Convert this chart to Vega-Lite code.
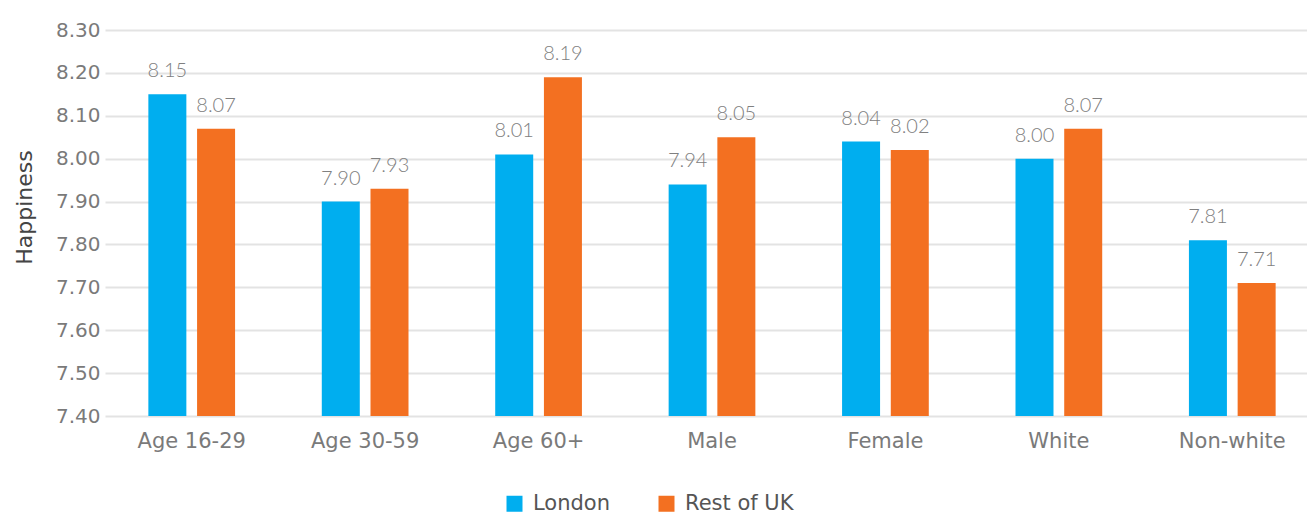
{
  "$schema": "https://vega.github.io/schema/vega-lite/v6.json",
  "width": 1196,
  "height": 386,
  "autosize": {"type": "none"},
  "padding": {"left": 111, "top": 30, "right": 0, "bottom": 101},
  "background": "white",
  "config": {
    "view": {"stroke": null},
    "font": "DejaVu Sans",
    "axis": {"labelFont": "DejaVu Sans", "titleFont": "DejaVu Sans"},
    "legend": {"labelFont": "DejaVu Sans"}
  },
  "data": {
    "values": [
      {"group": "Age 16-29", "region": "London", "value": 8.15},
      {"group": "Age 16-29", "region": "Rest of UK", "value": 8.07},
      {"group": "Age 30-59", "region": "London", "value": 7.90},
      {"group": "Age 30-59", "region": "Rest of UK", "value": 7.93},
      {"group": "Age 60+", "region": "London", "value": 8.01},
      {"group": "Age 60+", "region": "Rest of UK", "value": 8.19},
      {"group": "Male", "region": "London", "value": 7.94},
      {"group": "Male", "region": "Rest of UK", "value": 8.05},
      {"group": "Female", "region": "London", "value": 8.04},
      {"group": "Female", "region": "Rest of UK", "value": 8.02},
      {"group": "White", "region": "London", "value": 8.00},
      {"group": "White", "region": "Rest of UK", "value": 8.07},
      {"group": "Non-white", "region": "London", "value": 7.81},
      {"group": "Non-white", "region": "Rest of UK", "value": 7.71}
    ]
  },
  "encoding": {
    "x": {
      "field": "group",
      "type": "nominal",
      "sort": null,
      "scale": {"range": [-6, 1208], "paddingInner": 0.5, "paddingOuter": 0.25},
      "axis": {
        "title": null,
        "labelAngle": 0,
        "labelFontSize": 21,
        "labelColor": "#7a7a7a",
        "labelPadding": 14,
        "ticks": false,
        "domain": false,
        "grid": false
      }
    },
    "xOffset": {
      "field": "region",
      "type": "nominal",
      "scale": {"paddingInner": 0.22, "paddingOuter": 0}
    },
    "y": {
      "field": "value",
      "type": "quantitative",
      "scale": {"domain": [7.4, 8.3], "zero": false, "clamp": true, "nice": false},
      "axis": {
        "title": "Happiness",
        "titleFontSize": 22,
        "titleFontWeight": "normal",
        "titleColor": "#444444",
        "titlePadding": 19,
        "titleY": 177,
        "values": [7.4, 7.5, 7.6, 7.7, 7.8, 7.9, 8.0, 8.1, 8.2, 8.3],
        "format": ".2f",
        "labelFontSize": 20,
        "labelColor": "#7a7a7a",
        "labelPadding": 11,
        "ticks": false,
        "domain": false,
        "grid": true,
        "gridColor": "#e3e3e3",
        "gridWidth": 2
      }
    }
  },
  "layer": [
    {
      "mark": {"type": "bar"},
      "encoding": {
        "y2": {"datum": 7.4},
        "color": {
          "field": "region",
          "type": "nominal",
          "scale": {"domain": ["London", "Rest of UK"], "range": ["#00aeef", "#f37021"]},
          "legend": {
            "title": null,
            "orient": "none",
            "direction": "horizontal",
            "legendX": 393,
            "legendY": 463,
            "symbolType": "square",
            "symbolSize": 256,
            "symbolStrokeWidth": 0,
            "labelFontSize": 21,
            "labelColor": "#555555",
            "labelOffset": 8,
            "columnPadding": 46
          }
        }
      }
    },
    {
      "mark": {"type": "text", "baseline": "bottom", "dy": -13, "fontSize": 20, "font": "Lato", "fontWeight": 300, "color": "#808080"},
      "encoding": {
        "text": {"field": "value", "type": "quantitative", "format": ".2f"}
      }
    }
  ]
}
